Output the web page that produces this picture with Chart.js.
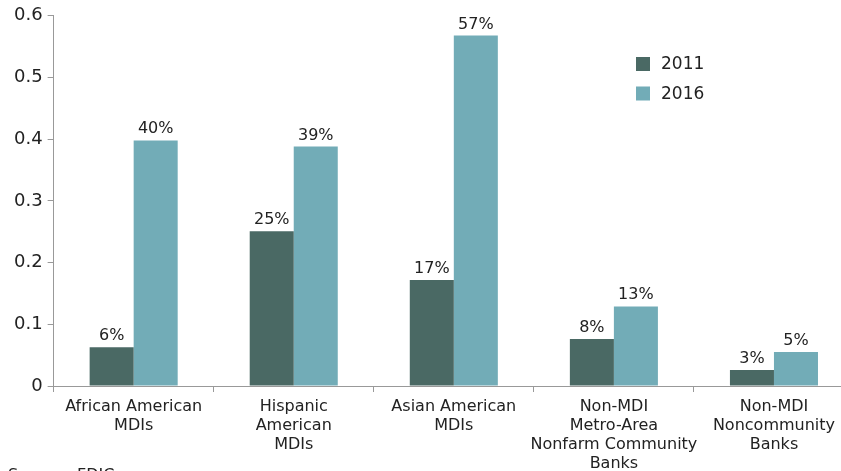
<!DOCTYPE html>
<html>
<head>
<meta charset="utf-8">
<script src="https://cdn.jsdelivr.net/npm/chart.js@4"></script>
<style>
html,body{margin:0;padding:0;background:#fff;overflow:hidden;}
#wrap{width:854px;height:478px;position:relative;}
</style>
</head>
<body>
<div id="wrap"><canvas id="c"></canvas></div>
<script>
const categories = [
  ["African American", "MDIs"],
  ["Hispanic", "American", "MDIs"],
  ["Asian American", "MDIs"],
  ["Non-MDI", "Metro-Area", "Nonfarm Community", "Banks"],
  ["Non-MDI", "Noncommunity", "Banks"]
];
const seriesNames = ["2011", "2016"];
const values2011 = [0.063, 0.251, 0.172, 0.076, 0.026];
const values2016 = [0.398, 0.388, 0.568, 0.129, 0.055];
const labels2011 = ["6%", "25%", "17%", "8%", "3%"];
const labels2016 = ["40%", "39%", "57%", "13%", "5%"];
const yTicks = [0, 0.1, 0.2, 0.3, 0.4, 0.5, 0.6];
const colors = ["#4a6964", "#72acb7"];
const FONT = "'DejaVu Sans', sans-serif";

const valueLabels = {
  id: 'valueLabels',
  afterDatasetsDraw(chart) {
    const ctx = chart.ctx;
    const lbls = [labels2011, labels2016];
    ctx.save();
    ctx.font = "16px " + FONT;
    ctx.fillStyle = "#222";
    ctx.textAlign = "center";
    ctx.textBaseline = "alphabetic";
    chart.data.datasets.forEach((ds, i) => {
      chart.getDatasetMeta(i).data.forEach((bar, j) => {
        ctx.fillText(lbls[i][j], bar.x, bar.y - 7);
      });
    });
    ctx.restore();
  }
};

const innerLegend = {
  id: 'innerLegend',
  afterDraw(chart) {
    const ctx = chart.ctx;
    ctx.save();
    ctx.font = "17px " + FONT;
    ctx.textBaseline = "middle";
    ctx.textAlign = "left";
    chart.data.datasets.forEach((ds, i) => {
      const y = 64 + i * 29.5;
      ctx.fillStyle = ds.backgroundColor;
      ctx.fillRect(636, y - 7, 14, 14);
      ctx.fillStyle = "#222";
      ctx.fillText(ds.label, 661, y + 1);
    });
    ctx.font = "16px " + FONT;
    ctx.textBaseline = "alphabetic";
    ctx.fillText("Source:", 8, 480);
    ctx.fillText("FDIC", 77, 480);
    ctx.restore();
  }
};

new Chart(document.getElementById('c'), {
  type: 'bar',
  data: {
    labels: categories,
    datasets: [
      { label: seriesNames[0], data: values2011, backgroundColor: colors[0] },
      { label: seriesNames[1], data: values2016, backgroundColor: colors[1] }
    ]
  },
  options: {
    responsive: true,
    maintainAspectRatio: false,
    animation: false,
    layout: { padding: { top: 7, right: 0, left: 9, bottom: 0 } },
    plugins: { legend: { display: false }, tooltip: { enabled: false } },
    datasets: { bar: { categoryPercentage: 0.55, barPercentage: 1.0 } },
    scales: {
      x: {
        offset: true,
        grid: { display: true, offset: true, drawOnChartArea: false, color: "#999", tickLength: 6 },
        border: { color: "#999", width: 1 },
        ticks: { color: "#222", font: { family: FONT, size: 16, lineHeight: 1.1875 }, maxRotation: 0, autoSkip: false, padding: 5 }
      },
      y: {
        min: 0, max: 0.6,
        afterBuildTicks(axis) { axis.ticks = yTicks.map(v => ({ value: v })); },
        grid: { display: true, drawOnChartArea: false, color: "#999", tickLength: 6 },
        border: { color: "#999", width: 1 },
        ticks: { color: "#222", font: { family: FONT, size: 18 }, padding: 5,
          callback: v => String(+Number(v).toFixed(1)) }
      }
    }
  },
  plugins: [valueLabels, innerLegend]
});
</script>
</body>
</html>
